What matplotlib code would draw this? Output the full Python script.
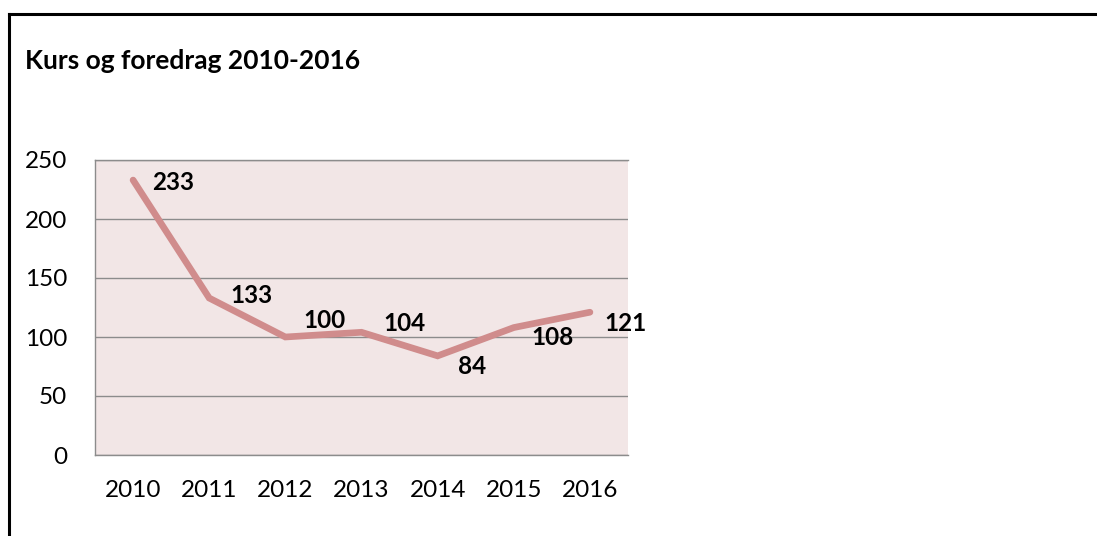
import matplotlib
matplotlib.use("Agg")
import matplotlib.pyplot as plt
from matplotlib.lines import Line2D

# data
years = ["2010", "2011", "2012", "2013", "2014", "2015", "2016"]
courses = [233, 133, 100, 104, 84, 108, 121]
y_ticks = [0, 50, 100, 150, 200, 250]

# label offsets from each point (pixels, x right / y up)
label_dx = [40, 42, 39, 43, 34, 39, 36]
label_dy = [-2, 3, 16, 9, -11, -10, -11]

W, H = 1097, 536
plt.rcParams['font.family'] = ['Lato', 'DejaVu Sans']

fig = plt.figure(figsize=(W / 100, H / 100), dpi=100)
fig.patch.set_facecolor("white")

# outer frame (only left and top edges visible)
fig.add_artist(Line2D([9 / W, 9 / W], [0, 1 - 14 / H], color="black", lw=2.2,
                      transform=fig.transFigure, solid_capstyle="projecting"))
fig.add_artist(Line2D([9 / W, 1], [1 - 14 / H, 1 - 14 / H], color="black", lw=2.2,
                      transform=fig.transFigure, solid_capstyle="projecting"))

fig.text(25 / W, 1 - 69 / H, "Kurs og foredrag 2010-2016", fontsize=19,
         fontweight="bold", va="baseline", ha="left")

ax = fig.add_axes([95 / W, (H - 455) / H, 533 / W, 295 / H])
ax.set_facecolor("#F2E6E6")
x = list(range(len(years)))
ax.plot(x, courses, color="#D08C8C", lw=4.8, solid_capstyle="round",
        solid_joinstyle="miter", zorder=3)

for i, v in enumerate(courses):
    ax.annotate(str(v), (i, v), xytext=(label_dx[i] * 0.72, label_dy[i] * 0.72),
                textcoords="offset points", ha="center", va="center",
                fontsize=17.5, fontweight="bold", color="black", zorder=4)

ax.set_xlim(-0.5, len(years) - 0.5)
ax.set_ylim(0, 250)
ax.set_yticks(y_ticks)
ax.set_xticks(x)
ax.set_xticklabels(years)
ax.yaxis.grid(True, color="#8C8C8C", lw=1)
ax.set_axisbelow(True)
for s in ["left", "top", "bottom"]:
    ax.spines[s].set_color("#8C8C8C")
    ax.spines[s].set_linewidth(1)
ax.spines["right"].set_visible(False)
ax.tick_params(axis="both", length=0, labelsize=17.5, colors="black")
ax.tick_params(axis="y", pad=20)
ax.tick_params(axis="x", pad=18)

fig.savefig("out.png", dpi=100)
